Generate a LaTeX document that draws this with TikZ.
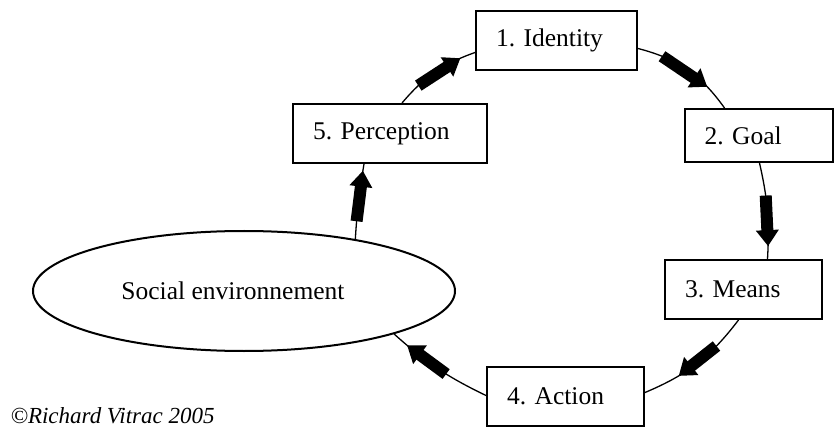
\documentclass[tikz,border=0pt]{standalone}
\usepackage{fontspec}
\setmainfont{Liberation Serif}
\usepackage{tikz}
\usetikzlibrary{shapes,arrows.meta,positioning,calc}
\frenchspacing

\tikzset{
    stagebox/.style={draw=black, line width=2pt, align=left, inner xsep=20pt, inner ysep=0pt, minimum height=59pt, font=\fontsize{25.5}{30}\selectfont},
    cycleline/.style={black, line width=1.3pt},
    blockarrow/.style={black, line width=12pt, -{Triangle[width=22pt,length=16pt]}}
}

\begin{document}
\begin{tikzpicture}[x=1pt, y=-1pt]
        \useasboundingbox (0,0) rectangle (834,427);
        \node[stagebox, text width=121pt] (ident) at (556.5,40.5) {1. Identity};
        \node[stagebox, text width=108pt, minimum height=53pt] (goal) at (758.5,135.5) {2. Goal};
        \node[stagebox, text width=117pt] (means) at (743.5,289.5) {3. Means};
        \node[stagebox, text width=117pt] (action) at (565.5,396.5) {4. Action};
        \node[stagebox, text width=154pt] (percep) at (390,133.5) {5. Perception};
        \node[ellipse, draw=black, line width=2pt, minimum width=422pt, minimum height=120pt, font=\fontsize{25.5}{30}\selectfont] (social) at (244,291) {Social environnement\kern22pt};
        \node[anchor=base west, font=\fontsize{23}{28}\selectfont\itshape] (copy) at (7,423) {©Richard Vitrac 2005};

        \draw[cycleline] ([xshift=12pt]percep.north) to[bend left=15] coordinate[pos=0.25] (a1s) coordinate[pos=0.84] (a1e) ([yshift=-12pt]ident.west);
        \draw[cycleline] ([yshift=-8pt]ident.east) to[bend left=20] coordinate[pos=0.22] (a2s) coordinate[pos=0.76] (a2e) ([xshift=-34pt]goal.north);
        \draw[cycleline] ([xshift=1pt]goal.south) to[bend left=8] coordinate[pos=0.33] (a3s) coordinate[pos=0.88] (a3e) ([xshift=24pt]means.north);
        \draw[cycleline] ([xshift=-5pt]means.south) to[bend left=15] coordinate[pos=0.27] (a4s) coordinate[pos=0.70] (a4e) ([yshift=4pt]action.east);
        \draw[cycleline] ([yshift=1pt]action.west) to[bend left=8] coordinate[pos=0.40] (a5s) coordinate[pos=0.86] (a5e) (social.-16);
        \draw[cycleline] (social.25) to[bend left=3] coordinate[pos=0.22] (a6s) coordinate[pos=0.92] (a6e) ([xshift=-26pt]percep.south);

        \draw[blockarrow] (a1s) -- (a1e);
        \draw[blockarrow] (a2s) -- (a2e);
        \draw[blockarrow] (a3s) -- (a3e);
        \draw[blockarrow] (a4s) -- (a4e);
        \draw[blockarrow] (a5s) -- (a5e);
        \draw[blockarrow] (a6s) -- (a6e);
    \end{tikzpicture}
\end{document}
